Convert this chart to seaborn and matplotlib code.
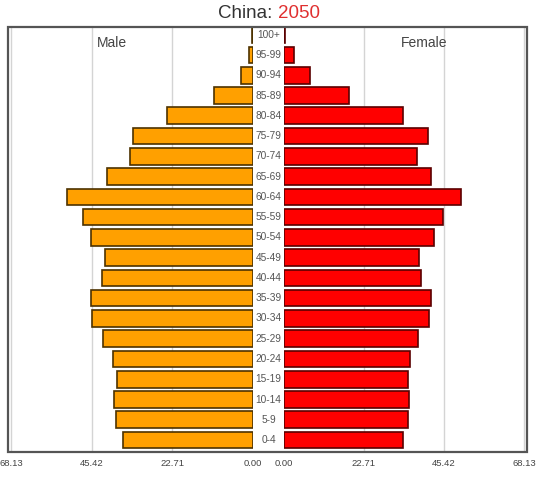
import matplotlib
matplotlib.use("Agg")
import matplotlib.pyplot as plt
import seaborn as sns
import pandas as pd
from matplotlib.patches import Rectangle

# ---------------- data ----------------
ages = ["100+", "95-99", "90-94", "85-89", "80-84", "75-79", "70-74", "65-69",
        "60-64", "55-59", "50-54", "45-49", "40-44", "35-39", "30-34", "25-29",
        "20-24", "15-19", "10-14", "5-9", "0-4"]
male = [0.2, 1.1, 3.5, 11.0, 24.2, 33.8, 34.7, 41.1, 52.4, 48.0, 45.8, 41.7,
        42.5, 45.6, 45.3, 42.2, 39.4, 38.3, 39.1, 38.6, 36.8]
female = [0.3, 2.8, 7.4, 18.5, 33.8, 40.8, 37.7, 41.7, 50.3, 45.1, 42.6, 38.2,
          38.9, 41.6, 41.1, 38.1, 35.9, 35.2, 35.5, 35.3, 33.8]
tick_values = [68.13, 45.42, 22.71, 0.00]
tick_labels = ["68.13", "45.42", "22.71", "0.00"]
title_country = "China: "
title_year = "2050"

df = pd.DataFrame({"age": ages, "male": male, "female": female})

# ---------------- figure ----------------
sns.set_theme(style="white")
plt.rcParams["font.family"] = ["Liberation Sans", "DejaVu Sans"]

W, H = 541, 480
fig = plt.figure(figsize=(W / 100, H / 100), dpi=100)
fig.patch.set_facecolor("white")

def fx(px):
    return px / W

def fy(py):
    return 1 - py / H

top_px, bot_px = 27, 452
left_px, zl_px, zr_px, right_px = 8, 253, 284, 527
ax_h = (bot_px - top_px) / H
ax_y = fy(bot_px)

axL = fig.add_axes([fx(left_px), ax_y, fx(zl_px - left_px), ax_h])
axC = fig.add_axes([fx(zl_px), ax_y, fx(zr_px - zl_px), ax_h])
axR = fig.add_axes([fx(zr_px), ax_y, fx(right_px - zr_px), ax_h])

orange = "#FFA000"
red = "#FF0000"

sns.barplot(data=df, x="male", y="age", order=ages, orient="h", ax=axL,
            color=orange, saturation=1, edgecolor="#4d3200", linewidth=1.2,
            width=0.82, zorder=3)
sns.barplot(data=df, x="female", y="age", order=ages, orient="h", ax=axR,
            color=red, saturation=1, edgecolor="#5a0000", linewidth=1.2,
            width=0.82, zorder=3)

ylim = (len(ages) - 1 + 0.59, -0.38)
for ax in (axL, axC, axR):
    ax.set_ylim(*ylim)
    ax.set_facecolor("white")
    for s in ax.spines.values():
        s.set_visible(False)
    ax.set_xlabel("")
    ax.set_ylabel("")
    ax.set_yticks([])

axL.set_xlim(69.1, 0)
axR.set_xlim(0, 69.0)

for ax, vals in ((axL, tick_values), (axR, tick_values[::-1])):
    labs = [f"{v:.2f}" for v in vals]
    ax.set_xticks(vals)
    ax.set_xticklabels(labs, fontsize=6.8, color="#444444")
    ax.tick_params(axis="x", length=0, pad=5)
    for v in vals:
        if v > 0:
            ax.axvline(v, color="#d4d4d4", lw=1.0, zorder=1)

axC.set_xlim(0, 1)
axC.set_xticks([])
for i, lab in enumerate(ages):
    axC.text(0.5, i, lab, ha="center", va="center", fontsize=7.3,
             color="#555555")

axL.text(fx(112 - left_px) / fx(zl_px - left_px), 1 - (43 - top_px) / (bot_px - top_px),
         "Male", transform=axL.transAxes, ha="center", va="center",
         fontsize=10, color="#444444")
axR.text(fx(424 - zr_px) / fx(right_px - zr_px), 1 - (43 - top_px) / (bot_px - top_px),
         "Female", transform=axR.transAxes, ha="center", va="center",
         fontsize=10, color="#444444")

# frame
fig.patches.append(Rectangle((fx(left_px), ax_y), fx(right_px - left_px), ax_h,
                             transform=fig.transFigure, fill=False,
                             edgecolor="#555555", lw=1.6, zorder=10))

# two-colour title
fig.canvas.draw()
r = fig.canvas.get_renderer()
t1 = fig.text(0, fy(14), title_country, fontsize=13.5, color="#333333",
              ha="left", va="center")
t2 = fig.text(0, fy(14), title_year, fontsize=13.5, color="#e03030",
              ha="left", va="center")
w1 = t1.get_window_extent(r).width
w2 = t2.get_window_extent(r).width
cx = 269
start = cx - (w1 + w2) / 2
t1.set_x(fx(start))
t2.set_x(fx(start + w1))

fig.savefig("out.png", dpi=100, facecolor="white")
